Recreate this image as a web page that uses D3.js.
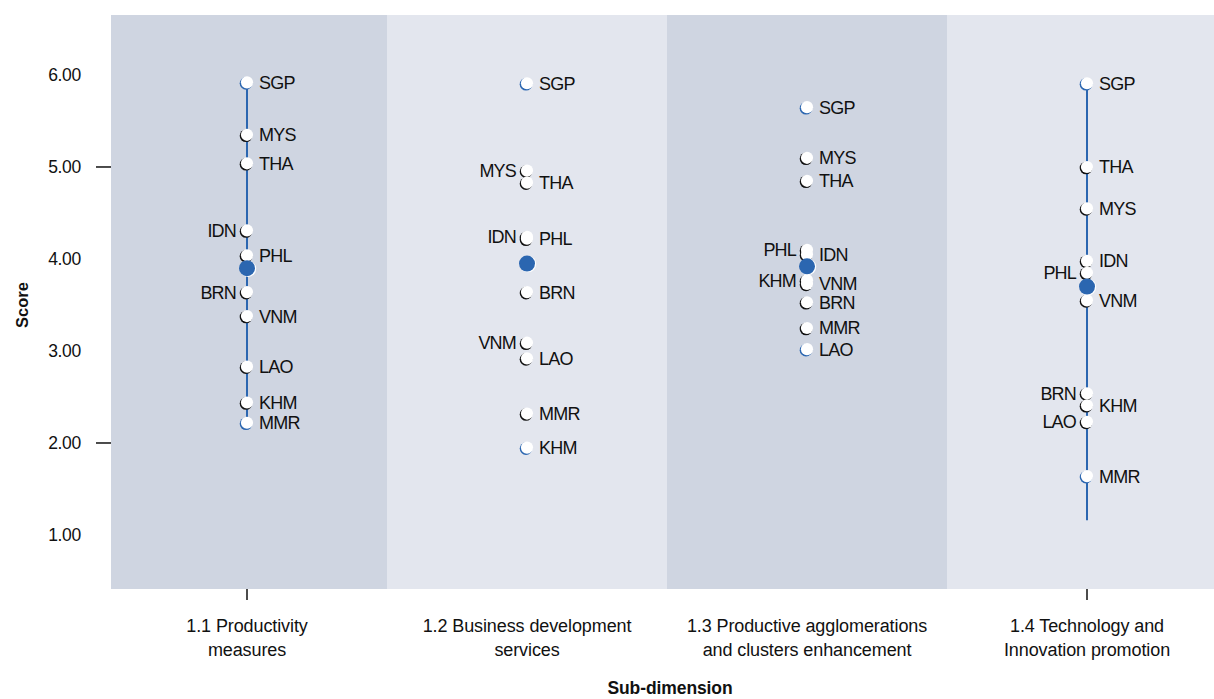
<!DOCTYPE html>
<html><head><meta charset="utf-8">
<script src="https://cdn.jsdelivr.net/npm/d3@7"></script>
<style>
body{margin:0;background:#fff;overflow:hidden;}
svg text{font-family:"Liberation Sans",Arial,sans-serif;fill:#111;}
</style></head><body>
<svg id="chart" width="1214" height="699"></svg>
<script>
// ---- data ----
const categories = ["1.1 Productivity measures", "1.2 Business development services", "1.3 Productive agglomerations and clusters enhancement", "1.4 Technology and Innovation promotion"];
const categoryLines = [["1.1 Productivity", "measures"], ["1.2 Business development", "services"], ["1.3 Productive agglomerations", "and clusters enhancement"], ["1.4 Technology and", "Innovation promotion"]];
const countries = ["SGP", "MYS", "THA", "IDN", "PHL", "BRN", "VNM", "LAO", "KHM", "MMR"];
const productivityMeasures = [5.92, 5.35, 5.04, 4.31, 4.04, 3.64, 3.38, 2.83, 2.44, 2.22];
const businessDevelopment = [5.91, 4.96, 4.83, 4.24, 4.22, 3.64, 3.09, 2.92, 1.95, 2.32];
const agglomerations = [5.65, 5.10, 4.85, 4.05, 4.10, 3.53, 3.73, 3.02, 3.77, 3.25];
const technologyInnovation = [5.91, 4.55, 5.00, 3.98, 3.85, 2.54, 3.55, 2.23, 2.41, 1.64];
const averages = [3.90, 3.95, 3.92, 3.70];
const rangeLow = [2.22, null, null, 1.16];
const rangeHigh = [5.92, null, null, 5.91];
const leftLabels = [["IDN", "BRN"], ["MYS", "IDN", "VNM"], ["PHL", "KHM"], ["PHL", "BRN", "LAO"]];
const yTickValues = [1, 2, 3, 4, 5, 6];
const yTickMarks = [2, 5];
const xTickMarks = [categories[0], categories[3]];

const seriesValues = [productivityMeasures, businessDevelopment, agglomerations, technologyInnovation];

// ---- layout ----
const svg = d3.select("#chart");
const plotLeft = 111, plotRight = 1214, plotTop = 15, plotBottom = 589;
const x = d3.scaleBand().domain(categories).range([107, 1227]).padding(0);
const y = d3.scaleLinear().domain([0.413, 6.652]).range([plotBottom, plotTop]);
const bandColors = ["#cfd5e1", "#e3e6ee"];
const blue = "#2b66b0";

// panel backgrounds
svg.append("g").selectAll("rect").data(categories).join("rect")
  .attr("x", d => Math.max(plotLeft, x(d)))
  .attr("y", plotTop)
  .attr("width", d => Math.min(plotRight, x(d) + x.bandwidth()) - Math.max(plotLeft, x(d)))
  .attr("height", plotBottom - plotTop)
  .attr("fill", (d, i) => bandColors[i % 2]);

// y axis
const yAxis = svg.append("g").attr("transform", `translate(${plotLeft},0)`)
  .call(d3.axisLeft(y).tickValues(yTickValues).tickFormat(d3.format(".2f")).tickSize(0).tickPadding(30));
yAxis.select(".domain").remove();
yAxis.selectAll("text").style("font-size", "17.5px").style("letter-spacing", "-0.3px").attr("fill", "#111");
svg.append("g").selectAll("line").data(yTickMarks).join("line")
  .attr("x1", plotLeft - 15).attr("x2", plotLeft).attr("y1", d => y(d)).attr("y2", d => y(d))
  .attr("stroke", "#111").attr("stroke-width", 1.5);

// x axis labels
const xAxis = svg.append("g").attr("transform", `translate(0,${plotBottom})`)
  .call(d3.axisBottom(x).tickSize(0).tickFormat(""));
xAxis.select(".domain").remove();
svg.append("g").selectAll("line").data(xTickMarks).join("line")
  .attr("x1", d => x(d) + x.bandwidth() / 2).attr("x2", d => x(d) + x.bandwidth() / 2)
  .attr("y1", plotBottom).attr("y2", plotBottom + 11)
  .attr("stroke", "#111").attr("stroke-width", 1.5);
categories.forEach((c, i) => {
  const t = svg.append("text").attr("x", x(c) + x.bandwidth() / 2).attr("y", 632)
    .attr("text-anchor", "middle").style("font-size", "18px").style("letter-spacing", "-0.1px");
  categoryLines[i].forEach((line, j) => {
    t.append("tspan").attr("x", x(c) + x.bandwidth() / 2).attr("dy", j === 0 ? 0 : 24).text(line);
  });
});

// axis titles
svg.append("text").attr("x", 670).attr("y", 694).attr("text-anchor", "middle")
  .style("font-size", "17.5px").style("font-weight", "bold").style("letter-spacing", "-0.1px").text("Sub-dimension");
svg.append("text").attr("transform", "translate(28,305) rotate(-90)").attr("text-anchor", "middle")
  .style("font-size", "16.5px").style("font-weight", "bold").text("Score");

// range lines
const lineG = svg.append("g");
categories.forEach((c, i) => {
  if (rangeLow[i] == null) return;
  const cx = x(c) + x.bandwidth() / 2;
  lineG.append("line").attr("x1", cx).attr("x2", cx).attr("y1", y(rangeHigh[i])).attr("y2", y(rangeLow[i]))
    .attr("stroke", blue).attr("stroke-width", 2);
});

// points
const pointsG = svg.append("g");
const labelsG = svg.append("g");
categories.forEach((c, i) => {
  const cx = x(c) + x.bandwidth() / 2;
  const vals = seriesValues[i];
  const maxV = d3.max(vals), minV = d3.min(vals);
  const pts = countries.map((k, j) => ({ k, v: vals[j], extreme: vals[j] === maxV || vals[j] === minV }));
  const g = pointsG.append("g");
  g.selectAll("circle.sh").data(pts).join("circle").attr("class", "sh")
    .attr("cx", cx - 1).attr("cy", d => y(d.v) + 1).attr("r", 6.3)
    .attr("fill", d => d.extreme ? blue : "#111");
  g.selectAll("circle.pt").data(pts).join("circle").attr("class", "pt")
    .attr("cx", cx).attr("cy", d => y(d.v)).attr("r", 6.1).attr("fill", "#fff");
  // average
  g.append("circle").attr("cx", cx + 1).attr("cy", y(averages[i]) + 0.5).attr("r", 8.2).attr("fill", "#fff");
  g.append("circle").attr("cx", cx).attr("cy", y(averages[i])).attr("r", 8).attr("fill", blue);
  // labels
  labelsG.append("g").selectAll("text").data(pts).join("text")
    .attr("x", d => leftLabels[i].includes(d.k) ? cx - 11 : cx + 12)
    .attr("y", d => y(d.v)).attr("dy", "0.36em")
    .attr("text-anchor", d => leftLabels[i].includes(d.k) ? "end" : "start")
    .style("font-size", "18px").style("letter-spacing", "-0.8px")
    .text(d => d.k);
});
</script>
</body></html>
